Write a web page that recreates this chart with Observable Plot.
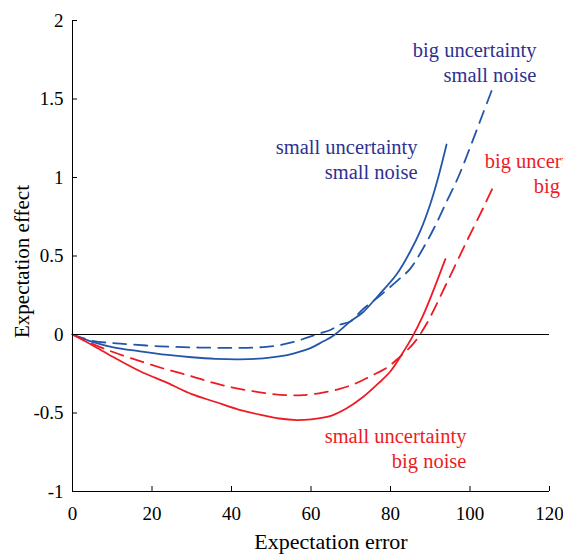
<!DOCTYPE html>
<html><head><meta charset="utf-8">
<script src="https://cdn.jsdelivr.net/npm/d3@7"></script>
<script src="https://cdn.jsdelivr.net/npm/@observablehq/plot@0.6"></script>
<style>
body{margin:0;background:#fff;}
#chart svg{overflow:hidden;}
#chart svg, #chart svg text, #chart svg tspan, #chart svg g {font-family: "Liberation Serif", "DejaVu Serif", serif !important;}
</style>
</head><body><div id="chart"></div>
<script>
// Tick values
const xTicks = [0, 20, 40, 60, 80, 100, 120];
const yTicks = [-1, -0.5, 0, 0.5, 1, 1.5, 2];

// small uncertainty, small noise (blue solid)
const ssX = [0, 5, 10, 17, 24, 30, 36, 42, 48, 52, 56, 60, 63, 65.5, 70, 73, 77, 81.6, 85, 87.5, 90, 92, 94.1];
const ssY = [0, -0.047, -0.08, -0.107, -0.13, -0.145, -0.155, -0.158, -0.152, -0.14, -0.118, -0.085, -0.045, -0.01, 0.085, 0.14, 0.25, 0.385, 0.53, 0.66, 0.83, 1.0, 1.21];

// big uncertainty, small noise (blue dashed)
const bsX = [0, 5, 12, 22, 32, 42, 48, 52, 56, 59, 62, 65, 67, 70, 73, 77, 81.6, 85, 88, 91, 94, 97, 100, 103, 106];
const bsY = [0, -0.04, -0.058, -0.075, -0.083, -0.085, -0.08, -0.068, -0.045, -0.02, 0.005, 0.03, 0.06, 0.085, 0.16, 0.24, 0.34, 0.42, 0.54, 0.68, 0.84, 1.0, 1.19, 1.39, 1.59];

// small uncertainty, big noise (red solid)
const sbX = [0, 5, 10, 17, 24, 30, 36, 42, 48, 52, 56.4, 60, 64.8, 69, 73, 77, 80, 83, 85.4, 88, 90, 93.8];
const sbY = [0, -0.068, -0.14, -0.234, -0.31, -0.38, -0.43, -0.48, -0.515, -0.535, -0.545, -0.54, -0.52, -0.47, -0.40, -0.31, -0.234, -0.12, -0.02, 0.11, 0.23, 0.48];

// big uncertainty, big noise (red dashed)
const bbX = [0, 5, 10, 17, 24, 30, 35, 40, 45, 50, 54.7, 58, 62.3, 67, 71.5, 75, 79, 82, 85.7, 89, 94, 99.2, 103.4, 106];
const bbY = [0, -0.06, -0.11, -0.17, -0.225, -0.266, -0.305, -0.336, -0.36, -0.378, -0.387, -0.386, -0.373, -0.348, -0.309, -0.265, -0.213, -0.15, -0.06, 0.065, 0.32, 0.595, 0.81, 0.95];

// Annotations
const labelText = ["big uncertainty\nsmall noise", "small uncertainty\nsmall noise", "big uncertainty\nbig noise", "small uncertainty\nbig noise"];
const labelX = [116.7, 86.8, 134.8, 99.1];
const labelY = [1.74, 1.124, 1.029, -0.72];
const labelColor = ["#2e3192", "#2e3192", "#ed1c24", "#ed1c24"];

const xTitle = "Expectation error";
const yTitle = "Expectation effect";

const toRows = (xs, ys) => xs.map((x, i) => ({x, y: ys[i]}));
const labels = labelText.map((t, i) => ({t, x: labelX[i], y: labelY[i], c: labelColor[i]}));

const blue = "#2356aa", red = "#ed1c24";
const font = "Liberation Serif, DejaVu Serif, serif";

const chart = Plot.plot({
  width: 563,
  height: 554,
  marginLeft: 72,
  marginRight: 14,
  marginTop: 20,
  marginBottom: 63,
  style: {fontFamily: font, fontSize: "19px", color: "black", background: "white"},
  x: {domain: [0, 120]},
  y: {domain: [-1, 2]},
  marks: [
    Plot.ruleY([0], {stroke: "black", strokeWidth: 1}),
    Plot.line(toRows(ssX, ssY), {x: "x", y: "y", stroke: blue, strokeWidth: 1.8, curve: "catmull-rom"}),
    Plot.line(toRows(bsX, bsY), {x: "x", y: "y", stroke: blue, strokeWidth: 1.8, strokeDasharray: "13,8", curve: "catmull-rom"}),
    Plot.line(toRows(sbX, sbY), {x: "x", y: "y", stroke: red, strokeWidth: 1.8, curve: "catmull-rom"}),
    Plot.line(toRows(bbX, bbY), {x: "x", y: "y", stroke: red, strokeWidth: 1.8, strokeDasharray: "13,8", curve: "catmull-rom"}),
    Plot.ruleX([0], {stroke: "black", strokeWidth: 1}),
    Plot.ruleY([-1], {stroke: "black", strokeWidth: 1}),
    Plot.axisX({ticks: xTicks, tickSize: -5, tickPadding: 20, tickFormat: d => String(d), fontSize: 19, label: null}),
    Plot.axisY({ticks: yTicks, tickSize: -5, tickPadding: 14, tickFormat: d => String(d), fontSize: 19, label: null}),
    Plot.text(labels, {x: "x", y: "y", text: "t", fill: "c", textAnchor: "end", lineAnchor: "middle", lineHeight: 1.22, fontSize: 20.5}),
    Plot.text([xTitle], {frameAnchor: "bottom", textAnchor: "middle", dx: 20, dy: 50, lineAnchor: "middle", fontSize: 22}),
    Plot.text([yTitle], {frameAnchor: "left", textAnchor: "middle", rotate: -90, dx: -50.6, dy: 5.5, lineAnchor: "middle", fontSize: 21})
  ]
});
document.getElementById("chart").append(chart);
</script>
</body></html>
